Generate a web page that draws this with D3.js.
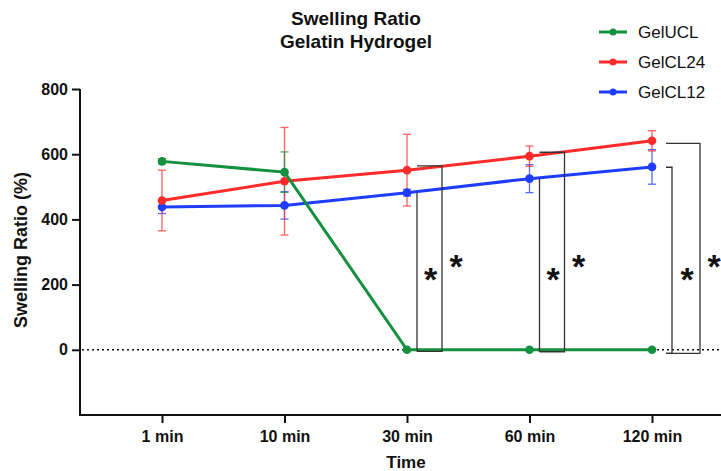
<!DOCTYPE html>
<html><head><meta charset="utf-8">
<script src="https://cdn.jsdelivr.net/npm/d3@7"></script>
<style>
html,body{margin:0;padding:0;background:#fff;}
svg{display:block;font-family:"Liberation Sans",Arial,sans-serif;}
</style></head>
<body><svg id="c" width="721" height="471"></svg>
<script>
const categories = ["1 min","10 min","30 min","60 min","120 min"];
const yTicks = [0,200,400,600,800];
const seriesNames = ["GelUCL","GelCL24","GelCL12"];
const gelUCL = [578,545,0,0,0];
const gelUCLErr = [8,62,0,0,0];
const gelCL24 = [458,517,551,594,641];
const gelCL24Err = [93,165,110,31,31];
const gelCL12 = [438,443,482,525,561];
const gelCL12Err = [20,42,10,43,53];
// significance brackets: time, inner top, outer top, bottom
const sigTimes = ["30 min","60 min","120 min"];
const sigInnerTop = [482,525,560];
const sigOuterTop = [564,606,633];
const sigBottom = [-5,-6,-11];

const colors = {GelUCL:"#14903f",GelCL24:"#ff2b2b",GelCL12:"#1f3cff"};
const series = [
  {name:"GelCL12",values:gelCL12,err:gelCL12Err},
  {name:"GelCL24",values:gelCL24,err:gelCL24Err},
  {name:"GelUCL",values:gelUCL,err:gelUCLErr}
];

const svg = d3.select("#c");
const x = d3.scalePoint().domain(categories).range([162,652]);
const y = d3.scaleLinear().domain([-200,800]).range([415,89]);
const x0 = 80, xEnd = 721;

// title
const title = svg.append("g").attr("font-weight","bold").attr("font-size",19).attr("text-anchor","middle").attr("fill","#111");
title.append("text").attr("x",356).attr("y",25).text("Swelling Ratio");
title.append("text").attr("x",356).attr("y",48).text("Gelatin Hydrogel");

// zero dotted line
svg.append("line").attr("x1",x0+2).attr("x2",xEnd).attr("y1",y(0)).attr("y2",y(0))
  .attr("stroke","#111").attr("stroke-width",1.6).attr("stroke-dasharray","2,3");

// y axis
const yAxis = d3.axisLeft(y).tickValues(yTicks).tickSize(8).tickPadding(4);
const gy = svg.append("g").attr("transform",`translate(${x0},0)`).call(yAxis);
gy.select(".domain").attr("d",`M0,${y(800)}V${y(-200)}`).attr("stroke","#111").attr("stroke-width",2);
gy.selectAll(".tick line").attr("stroke","#111").attr("stroke-width",2);
gy.selectAll(".tick text").attr("font-size",16).attr("font-weight","bold").attr("fill","#111").attr("font-family","Liberation Sans, Arial, sans-serif");

// x axis
const xAxis = d3.axisBottom(x).tickSize(8).tickPadding(8);
const gx = svg.append("g").attr("transform",`translate(0,${y(-200)})`).call(xAxis);
gx.select(".domain").attr("d",`M${x0-1},0H${xEnd}`).attr("stroke","#111").attr("stroke-width",2);
gx.selectAll(".tick line").attr("stroke","#111").attr("stroke-width",2);
gx.selectAll(".tick text").attr("font-size",16).attr("font-weight","bold").attr("fill","#111").attr("font-family","Liberation Sans, Arial, sans-serif");

// axis titles
svg.append("text").attr("x",406).attr("y",468).attr("text-anchor","middle")
  .attr("font-size",17).attr("font-weight","bold").attr("fill","#111").text("Time");
svg.append("text").attr("transform",`translate(27,${250}) rotate(-90)`).attr("text-anchor","middle")
  .attr("font-size",18).attr("font-weight","bold").attr("fill","#111").text("Swelling Ratio (%)");

// error bars
series.forEach(s=>{
  const g = svg.append("g").attr("stroke",colors[s.name]).attr("stroke-width",1.3).attr("opacity",0.75);
  categories.forEach((c,i)=>{
    if(!s.err[i]) return;
    const cx = x(c), t = y(s.values[i]+s.err[i]), b = y(s.values[i]-s.err[i]);
    g.append("line").attr("x1",cx).attr("x2",cx).attr("y1",t).attr("y2",b);
    g.append("line").attr("x1",cx-4).attr("x2",cx+4).attr("y1",t).attr("y2",t);
    g.append("line").attr("x1",cx-4).attr("x2",cx+4).attr("y1",b).attr("y2",b);
  });
});

// lines + markers
const line = d3.line().x((d,i)=>x(categories[i])).y(d=>y(d));
series.forEach(s=>{
  svg.append("path").datum(s.values).attr("d",line).attr("fill","none")
    .attr("stroke",colors[s.name]).attr("stroke-width",3);
  svg.append("g").selectAll("circle").data(s.values).join("circle")
    .attr("cx",(d,i)=>x(categories[i])).attr("cy",d=>y(d)).attr("r",4.3).attr("fill",colors[s.name]);
});

// significance brackets
const bg = svg.append("g").attr("fill","none").attr("stroke","#333").attr("stroke-width",1.3);
const starFs = 34;
sigTimes.forEach((t,i)=>{
  const cx = x(t);
  const armStart = i===2 ? cx+14 : cx+10;
  const inX = i===2 ? cx+20 : cx+10;
  const outX = i===2 ? cx+48 : cx+35;
  bg.append("path").attr("d",`M${armStart},${y(sigInnerTop[i])}H${inX}V${y(sigBottom[i])}H${armStart}`);
  bg.append("path").attr("d",`M${armStart},${y(sigOuterTop[i])}H${outX}V${y(sigBottom[i])}H${armStart}`);
  svg.append("text").attr("x",(inX+outX)/2+1).attr("y",272+starFs*0.55)
    .attr("text-anchor","middle").attr("font-size",starFs).attr("font-weight","bold").attr("fill","#111").text("*");
  svg.append("text").attr("x",outX+14).attr("y",259+starFs*0.55)
    .attr("text-anchor","middle").attr("font-size",starFs).attr("font-weight","bold").attr("fill","#111").text("*");
});

// legend
const legendOrder = ["GelUCL","GelCL24","GelCL12"];
const lg = svg.append("g");
legendOrder.forEach((n,i)=>{
  const ly = 32 + i*30;
  lg.append("line").attr("x1",599).attr("x2",627).attr("y1",ly).attr("y2",ly).attr("stroke",colors[n]).attr("stroke-width",3);
  lg.append("circle").attr("cx",613).attr("cy",ly).attr("r",3.5).attr("fill",colors[n]);
  lg.append("text").attr("x",638).attr("y",ly).attr("dy","0.36em").attr("font-size",17).attr("fill","#111").text(n);
});
</script></body></html>
